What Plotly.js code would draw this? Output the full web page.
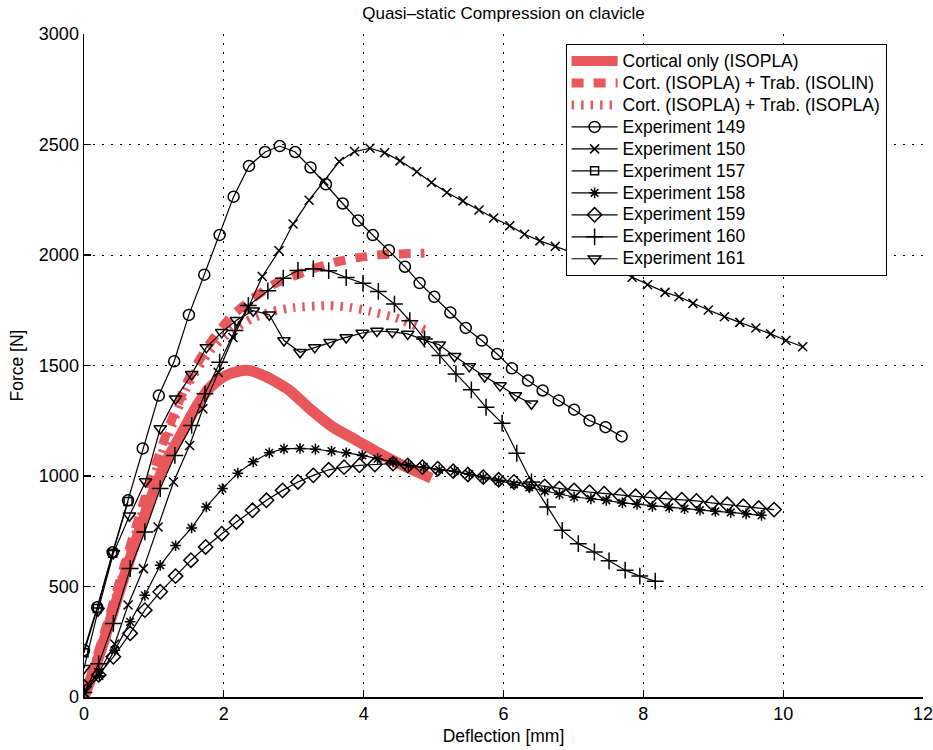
<!DOCTYPE html>
<html>
<head>
<meta charset="utf-8">
<script src="https://cdn.plot.ly/plotly-3.0.1.min.js"></script>
<style>
html,body{margin:0;padding:0;background:#fff;}
#chart{width:933px;height:750px;}
.legendtext{font-size:17.5px !important;}
</style>
</head>
<body>
<div id="chart"></div>
<script>
// ---- data ----
const xCort = [0, 0.2, 0.4, 0.6, 0.8, 1.0, 1.2, 1.4, 1.6, 1.8, 2.0, 2.2, 2.35, 2.6, 2.94, 3.23, 3.56, 3.90, 4.23, 4.56, 4.97];
const fCort = [0, 170, 370, 570, 760, 935, 1080, 1195, 1310, 1400, 1450, 1473, 1478, 1450, 1387, 1304, 1221, 1161, 1101, 1048, 990];

const xIsolin = [0, 0.3, 0.6, 0.9, 1.2, 1.5, 1.8, 2.1, 2.4, 2.7, 3.0, 3.3, 3.6, 3.9, 4.2, 4.5, 4.87];
const fIsolin = [0, 300, 620, 930, 1210, 1440, 1600, 1720, 1800, 1865, 1905, 1940, 1968, 1987, 2000, 2005, 2008];

const xIsopla = [0, 0.3, 0.6, 0.9, 1.2, 1.5, 1.8, 2.1, 2.4, 2.7, 3.0, 3.5, 3.8, 4.1, 4.5, 4.9];
const fIsopla = [0, 290, 600, 900, 1180, 1420, 1565, 1655, 1712, 1745, 1762, 1771, 1763, 1745, 1712, 1658];

const x149 = [0, 0.19, 0.41, 0.63, 0.84, 1.07, 1.29, 1.50, 1.72, 1.94, 2.14, 2.36, 2.59, 2.80, 3.02, 3.24, 3.46, 3.70, 3.92, 4.13, 4.36, 4.59, 4.80, 5.01, 5.24, 5.46, 5.69, 5.91, 6.12, 6.35, 6.56, 6.79, 7.01, 7.23, 7.46, 7.69];
const f149 = [212, 406, 655, 890, 1125, 1364, 1519, 1729, 1911, 2091, 2264, 2403, 2466, 2493, 2466, 2396, 2320, 2233, 2156, 2090, 2022, 1947, 1873, 1811, 1740, 1670, 1613, 1552, 1487, 1432, 1387, 1342, 1300, 1251, 1221, 1179];

const x150 = [0, 0.21, 0.44, 0.63, 0.85, 1.06, 1.28, 1.51, 1.70, 1.92, 2.13, 2.35, 2.55, 2.79, 2.99, 3.22, 3.43, 3.65, 3.87, 4.09, 4.30, 4.52, 4.76, 4.97, 5.19, 5.42, 5.65, 5.86, 6.09, 6.30, 6.52, 6.74, 6.96, 7.19, 7.43, 7.62, 7.84, 8.06, 8.31, 8.51, 8.71, 8.93, 9.16, 9.38, 9.61, 9.82, 10.04, 10.28];
const f150 = [20, 110, 240, 416, 581, 769, 973, 1138, 1304, 1469, 1627, 1763, 1903, 2019, 2140, 2248, 2335, 2423, 2468, 2483, 2463, 2426, 2377, 2328, 2283, 2245, 2204, 2167, 2132, 2094, 2064, 2039, 2013, 1986, 1959, 1932, 1899, 1865, 1831, 1811, 1781, 1751, 1721, 1695, 1670, 1643, 1613, 1585];

const x157 = [0, 0.19, 0.41, 0.63];
const f157 = [200, 400, 650, 885];

const x158 = [0, 0.22, 0.44, 0.66, 0.87, 1.09, 1.31, 1.54, 1.75, 1.98, 2.20, 2.42, 2.65, 2.86, 3.09, 3.31, 3.54, 3.75, 3.98, 4.20, 4.42, 4.64, 4.86, 5.08, 5.30, 5.51, 5.71, 5.93, 6.15, 6.37, 6.59, 6.80, 7.01, 7.25, 7.47, 7.70, 7.91, 8.13, 8.37, 8.59, 8.81, 9.03, 9.25, 9.47, 9.69];
const f158 = [20, 95, 212, 340, 460, 596, 685, 765, 860, 943, 1013, 1064, 1105, 1123, 1125, 1121, 1113, 1105, 1093, 1078, 1063, 1048, 1040, 1028, 1022, 1008, 993, 978, 962, 948, 932, 917, 905, 897, 890, 878, 872, 863, 858, 852, 846, 840, 835, 829, 822];

const x159 = [0, 0.21, 0.42, 0.66, 0.87, 1.09, 1.31, 1.53, 1.74, 1.97, 2.18, 2.41, 2.61, 2.84, 3.06, 3.28, 3.50, 3.72, 3.94, 4.16, 4.42, 4.63, 4.84, 5.06, 5.28, 5.49, 5.71, 5.93, 6.15, 6.37, 6.59, 6.80, 7.01, 7.23, 7.44, 7.67, 7.89, 8.10, 8.32, 8.55, 8.76, 8.98, 9.20, 9.43, 9.65, 9.87];
const f159 = [47, 100, 182, 288, 393, 476, 547, 619, 679, 739, 792, 845, 890, 935, 973, 1003, 1028, 1040, 1048, 1052, 1056, 1048, 1040, 1033, 1022, 1007, 995, 983, 973, 962, 953, 943, 935, 927, 920, 912, 908, 902, 897, 893, 887, 878, 872, 863, 855, 848];

const x160 = [0, 0.21, 0.42, 0.66, 0.87, 1.09, 1.30, 1.54, 1.73, 1.94, 2.16, 2.35, 2.63, 2.85, 3.06, 3.28, 3.50, 3.75, 3.99, 4.21, 4.44, 4.66, 4.87, 5.09, 5.32, 5.54, 5.75, 5.98, 6.19, 6.40, 6.63, 6.84, 7.07, 7.30, 7.51, 7.74, 7.95, 8.17];
const f160 = [20, 150, 333, 581, 747, 943, 1093, 1229, 1372, 1515, 1658, 1771, 1838, 1895, 1930, 1938, 1929, 1898, 1872, 1835, 1778, 1703, 1620, 1545, 1462, 1390, 1311, 1239, 1103, 973, 860, 754, 694, 656, 616, 574, 547, 524];

const x161 = [0, 0.2, 0.42, 0.65, 0.88, 1.09, 1.31, 1.54, 1.75, 1.97, 2.18, 2.42, 2.65, 2.86, 3.09, 3.30, 3.52, 3.75, 3.98, 4.19, 4.41, 4.63, 4.86, 5.08, 5.30, 5.51, 5.73, 5.95, 6.17, 6.40];
const f161 = [130, 390, 650, 820, 975, 1215, 1350, 1460, 1582, 1650, 1705, 1748, 1730, 1613, 1560, 1582, 1605, 1627, 1647, 1656, 1652, 1643, 1616, 1594, 1542, 1496, 1450, 1409, 1364, 1327];

const names = ['Cortical only (ISOPLA)', 'Cort. (ISOPLA) + Trab. (ISOLIN)', 'Cort. (ISOPLA) + Trab. (ISOPLA)',
  'Experiment 149', 'Experiment 150', 'Experiment 157', 'Experiment 158', 'Experiment 159', 'Experiment 160', 'Experiment 161'];

const xTicks = [0, 2, 4, 6, 8, 10, 12];
const yTicks = [0, 500, 1000, 1500, 2000, 2500, 3000];

// ---- styling ----
const RED = '#e8575c';
function redTrace(x, y, name, width, dash) {
  return {x: x, y: y, name: name, type: 'scatter', mode: 'lines',
    line: {color: RED, width: width, dash: dash, shape: 'spline', smoothing: 0.6}};
}
function expTrace(x, y, name, symbol, size) {
  return {x: x, y: y, name: name, type: 'scatter', mode: 'lines+markers',
    line: {color: '#000', width: 1.2},
    marker: {symbol: symbol, size: size, color: '#000', line: {color: '#000', width: 1.5}}};
}

const traces = [
  redTrace(xCort, fCort, names[0], 11, 'solid'),
  redTrace(xIsolin, fIsolin, names[1], 9, '12px,10px'),
  redTrace(xIsopla, fIsopla, names[2], 9, '2.5px,7px'),
  expTrace(x149, f149, names[3], 'circle-open', 11),
  expTrace(x150, f150, names[4], 'x-thin-open', 9),
  expTrace(x157, f157, names[5], 'square-open', 8),
  expTrace(x158, f158, names[6], 'asterisk-open', 9),
  expTrace(x159, f159, names[7], 'diamond-open', 11),
  expTrace(x160, f160, names[8], 'cross-thin-open', 12),
  expTrace(x161, f161, names[9], 'triangle-down-open', 11)
];

const FONT = 'Liberation Sans, Arial, sans-serif';
const layout = {
  width: 933, height: 750, autosize: false,
  paper_bgcolor: '#fff', plot_bgcolor: '#fff',
  margin: {l: 84, r: 10, t: 34, b: 53, pad: 0},
  font: {family: FONT, color: '#000', size: 16},
  title: {text: 'Quasi–static Compression on clavicle', font: {size: 17, family: FONT, color: '#000'},
    x: 0.5, xref: 'paper', xanchor: 'center', y: 0.991, yref: 'container', yanchor: 'top'},
  xaxis: {range: [0, 12], tickvals: xTicks, ticktext: xTicks.map(String),
    showline: true, linecolor: '#000', linewidth: 1.5, mirror: false,
    ticks: 'inside', ticklen: 7, tickcolor: '#000', tickwidth: 1.2,
    showgrid: true, gridcolor: '#000', gridwidth: 1, griddash: '1.5px,7.5px', zeroline: false,
    ticklabeloverflow: 'allow',
    tickfont: {size: 18, family: FONT, color: '#000'},
    title: {text: 'Deflection [mm]', font: {size: 17.5, family: FONT, color: '#000'}, standoff: 6}},
  yaxis: {range: [0, 3000], tickvals: yTicks, ticktext: yTicks.map(String),
    showline: true, linecolor: '#000', linewidth: 1.5, mirror: false,
    ticks: 'inside', ticklen: 7, tickcolor: '#000', tickwidth: 1.2,
    showgrid: true, gridcolor: '#000', gridwidth: 1, griddash: '1.5px,7.5px', zeroline: false,
    ticklabeloverflow: 'allow',
    tickfont: {size: 18, family: FONT, color: '#000'},
    title: {text: 'Force [N]', font: {size: 17.5, family: FONT, color: '#000'}, standoff: 10}},
  showlegend: true,
  legend: {x: 0.574, y: 0.985, xanchor: 'left', yanchor: 'top', bgcolor: '#fff',
    bordercolor: '#000', borderwidth: 1, font: {size: 14.6, family: FONT, color: '#000'},
    tracegroupgap: 0, itemwidth: 46, traceorder: 'normal'}
};

Plotly.newPlot('chart', traces, layout, {displayModeBar: false, staticPlot: true});
</script>
</body>
</html>
